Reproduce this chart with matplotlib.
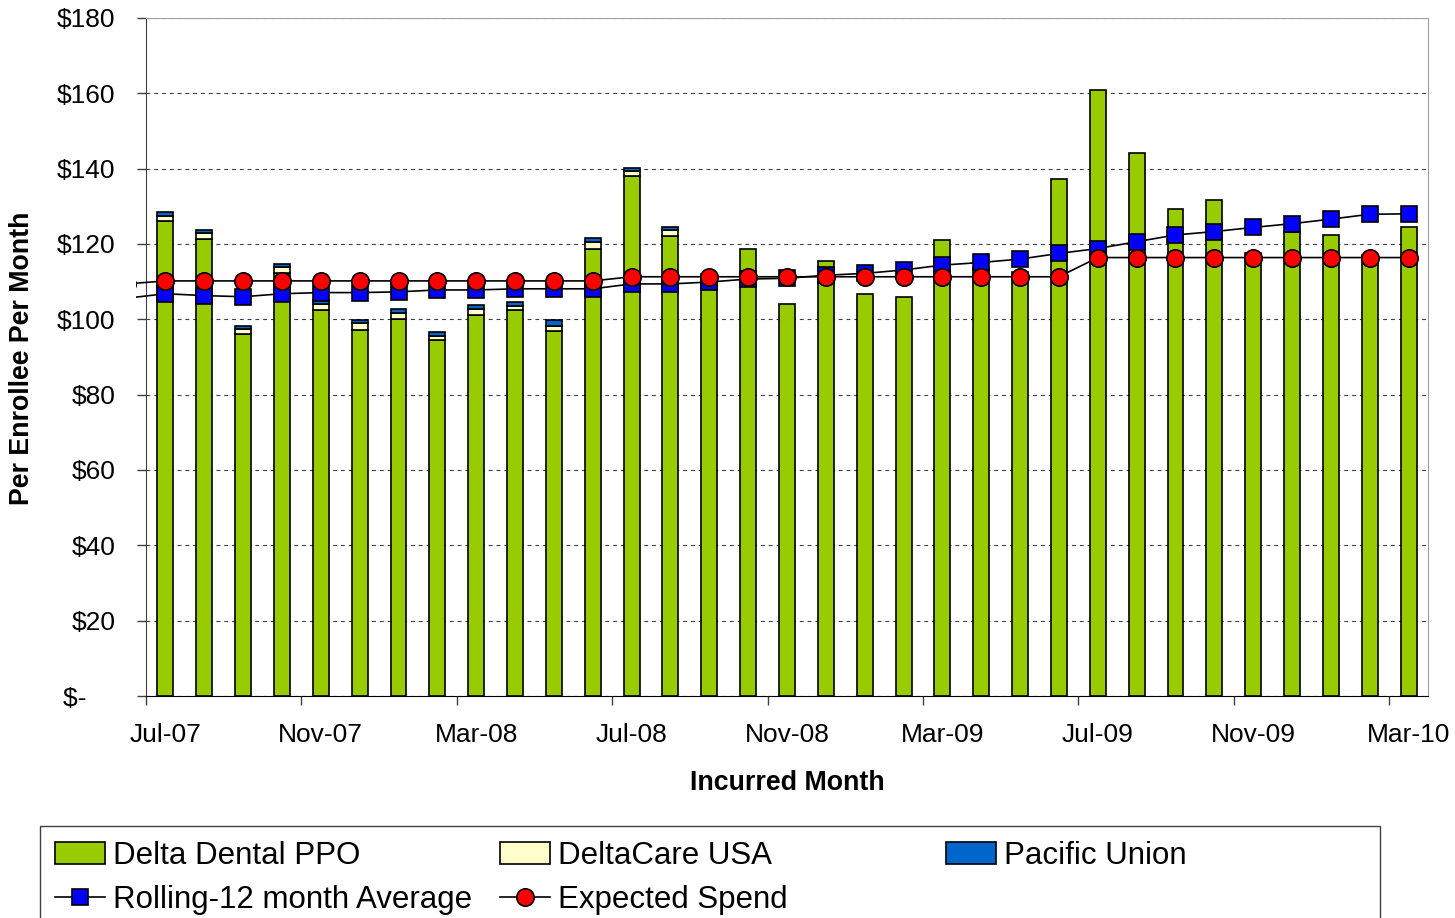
import numpy as np
import matplotlib
matplotlib.use('Agg')
import matplotlib.pyplot as plt
from matplotlib.patches import Rectangle
from matplotlib.ticker import FuncFormatter, FixedLocator

plt.rcParams['font.family'] = ['Liberation Sans', 'DejaVu Sans']

# monthly values, Jul-07 .. Mar-10
months = ['Jul-07', 'Aug-07', 'Sep-07', 'Oct-07', 'Nov-07', 'Dec-07',
          'Jan-08', 'Feb-08', 'Mar-08', 'Apr-08', 'May-08', 'Jun-08',
          'Jul-08', 'Aug-08', 'Sep-08', 'Oct-08', 'Nov-08', 'Dec-08',
          'Jan-09', 'Feb-09', 'Mar-09', 'Apr-09', 'May-09', 'Jun-09',
          'Jul-09', 'Aug-09', 'Sep-09', 'Oct-09', 'Nov-09', 'Dec-09',
          'Jan-10', 'Feb-10', 'Mar-10']

ppo = [126.2, 121.4, 96.2, 112.2, 102.4, 97.3, 100.2, 94.4, 101.1, 102.4, 96.9, 118.8,
       138.0, 122.0, 111.5, 118.7, 104.2, 115.6, 106.7, 106.0, 121.1, 113.5, 112.5, 137.2,
       160.9, 144.1, 129.2, 131.7, 117.5, 123.1, 122.4, 117.0, 124.6]
deltacare = [1.3, 1.4, 1.2, 1.8, 1.7, 1.6, 1.4, 1.2, 1.6, 1.2, 1.4, 1.6,
             1.3, 1.7, 0, 0, 0, 0, 0, 0, 0, 0, 0, 0,
             0, 0, 0, 0, 0, 0, 0, 0, 0]
pacific = [0.9, 0.9, 0.9, 0.8, 1.0, 0.9, 1.2, 1.0, 1.0, 0.9, 1.4, 1.1,
           1.0, 0.9, 0, 0, 0, 0, 0, 0, 0, 0, 0, 0,
           0, 0, 0, 0, 0, 0, 0, 0, 0]
rolling = [106.8, 106.3, 106.0, 106.8, 107.1, 107.1, 107.3, 107.8, 107.8, 108.1, 108.1, 108.1,
           109.4, 109.4, 109.9, 110.7, 110.9, 111.7, 112.2, 113.1, 114.4, 115.1, 116.0, 117.5,
           118.8, 120.6, 122.4, 123.3, 124.4, 125.4, 126.6, 127.9, 128.0]
expected = [110.2] * 12 + [111.3] * 12 + [116.4] * 9

# previous month (Jun-07), only the connecting line shows
rolling_prev = 105.6
expected_prev = 109.4

x = np.arange(len(months))
ppo_a = np.array(ppo)
dc_a = np.array(deltacare)
pu_a = np.array(pacific)

fig = plt.figure(figsize=(14.55, 9.18), dpi=100)
ax = fig.add_axes([146 / 1455, 1 - 696 / 918, 1282 / 1455, 678 / 918])

bw = 0.41
b1 = ax.bar(x, ppo_a, bw, color='#99CC00', edgecolor='black', lw=1.2, zorder=2,
            label='Delta Dental PPO')
b2 = ax.bar(x, dc_a, bw, bottom=ppo_a, color='#FFFFCC', edgecolor='black', lw=1.2,
            zorder=2, label='DeltaCare USA')
b3 = ax.bar(x, pu_a, bw, bottom=ppo_a + dc_a, color='#0066CC', edgecolor='black',
            lw=1.2, zorder=2, label='Pacific Union')
# hide the flat edges of zero-height segments
for cont, vals in [(b2, dc_a), (b3, pu_a)]:
    for p, v in zip(cont.patches, vals):
        if v == 0:
            p.set_visible(False)

xl = np.concatenate([[-1], x])
l1, = ax.plot(xl, [rolling_prev] + rolling, color='black', lw=1.2, marker='s',
              ms=11.5, mfc='#0000FF', mec='black', mew=1.2, zorder=3,
              label='Rolling-12 month Average')
l2, = ax.plot(xl, [expected_prev] + expected, color='black', lw=1.2, marker='o',
              ms=12.5, mfc='#FF0000', mec='black', mew=1.2, zorder=4,
              label='Expected Spend')
for ln in (l1, l2):
    ln.set_clip_path(Rectangle((-0.0075, 0), 1.0075, 1, transform=ax.transAxes))

ax.set_xlim(-0.5, len(months) - 0.5)
ax.set_ylim(0, 180)

ax.yaxis.set_major_locator(FixedLocator(np.arange(0, 181, 20)))
ax.yaxis.set_major_formatter(FuncFormatter(
    lambda v, p: '$-    ' if v == 0 else '${:.0f}'.format(v)))
ax.tick_params(axis='y', which='major', length=6.5, width=1, pad=15.5,
               labelsize=19, color='#404040')

ax.xaxis.set_major_locator(FixedLocator(np.arange(-0.5, len(months) - 1, 4)))
ax.xaxis.set_minor_locator(FixedLocator(np.arange(0, len(months), 4)))
ax.xaxis.set_major_formatter(plt.NullFormatter())
ax.xaxis.set_minor_formatter(FuncFormatter(lambda v, p: months[int(round(v))]))
ax.tick_params(axis='x', which='major', length=6.5, width=1, color='#404040')
ax.tick_params(axis='x', which='minor', length=0, pad=19.5, labelsize=19)

ax.set_axisbelow(True)
ax.yaxis.grid(True, linestyle=(0, (3.5, 3.5)), color='#404040', lw=0.8)

ax.spines['left'].set_color('#404040')
ax.spines['bottom'].set_color('black')
ax.spines['top'].set_color('#A0A0A0')
ax.spines['right'].set_color('#A0A0A0')

ax.set_ylabel('Per Enrollee Per Month', fontsize=19.3, fontweight='bold', va='center')
ax.yaxis.set_label_coords(-0.0971, 0.4985)
ax.set_xlabel('Incurred Month', fontsize=19.3, fontweight='bold', va='center')
ax.xaxis.set_label_coords(0.5, (696 - 783) / 678)

# legend: framed box cut by the bottom edge, three columns
fig.add_artist(Rectangle((40 / 1455, -0.05), 1340 / 1455, 0.05 + 92 / 918,
                         transform=fig.transFigure, fill=False,
                         edgecolor='#404040', lw=1))
cols = [([b1, l1], 55), ([b2, l2], 500), ([b3], 946)]
for hs, px in cols:
    fig.legend(handles=hs, labels=[h.get_label() for h in hs], loc='upper left',
               bbox_to_anchor=(px / 1455, 1 - 841 / 918), frameon=False,
               fontsize=22.5, handlelength=1.6, handleheight=0.7,
               handletextpad=0.25, labelspacing=0.46, borderpad=0,
               borderaxespad=0)

fig.savefig('out.png', dpi=100)
